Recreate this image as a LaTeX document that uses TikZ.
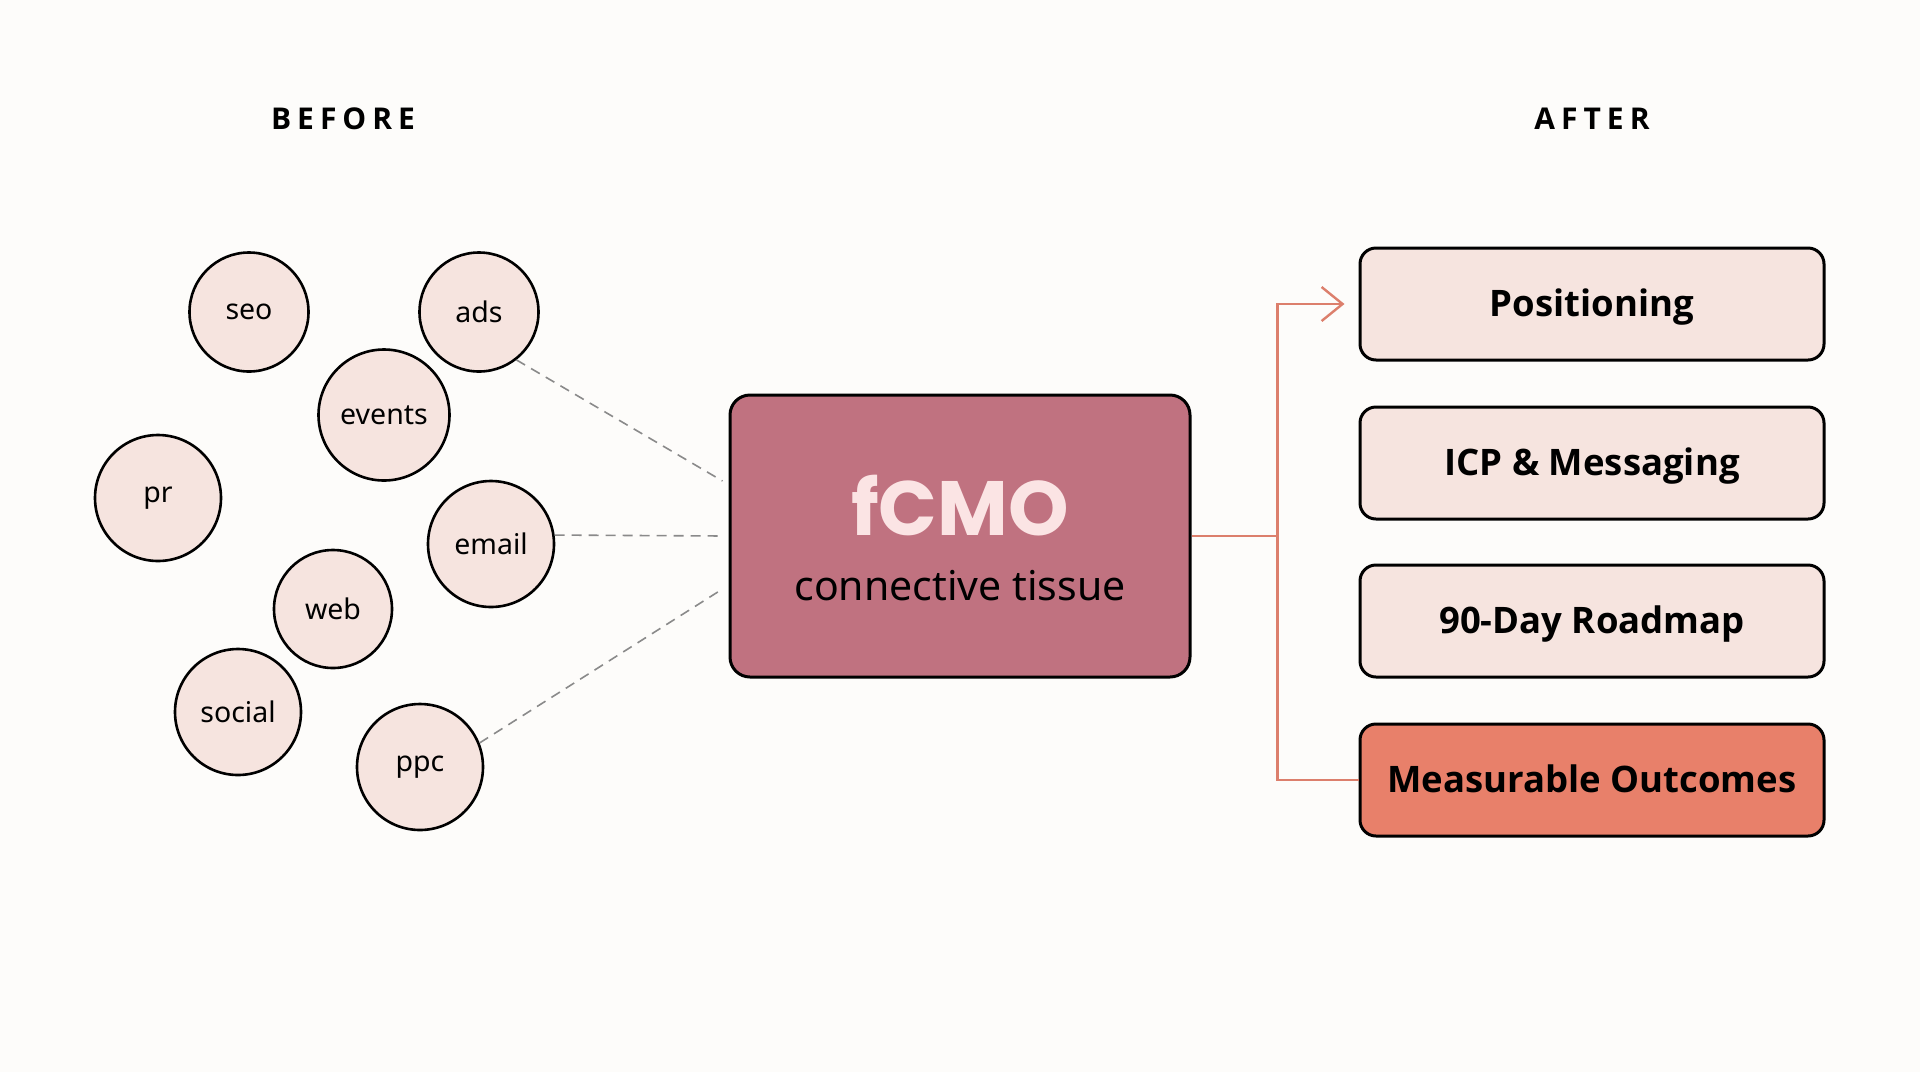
\documentclass[tikz,border=0pt]{standalone}
\usepackage{fontspec}
\setmainfont{Noto Sans}
\newfontfamily\popfont{Poppins}
\newfontfamily\boldsans{Open Sans}
\newfontfamily\headfont[LetterSpace=20]{Open Sans}
\usetikzlibrary{arrows.meta,calc}
\definecolor{bg}{HTML}{FDFCFA}
\definecolor{pinkfill}{HTML}{F6E4DF}
\definecolor{rose}{HTML}{C07280}
\definecolor{coral}{HTML}{E8806A}
\definecolor{linecoral}{HTML}{DC7F6C}
\definecolor{fcmotext}{HTML}{FBE4E4}
\definecolor{dashgray}{HTML}{8A8A8A}
\begin{document}
\begin{tikzpicture}[x=1pt,y=-1pt,
  chan/.style={circle, draw=black, line width=2.6pt, fill=pinkfill, minimum size=#1, inner sep=0pt, text=black, font=\fontsize{28.5}{33}\selectfont},
  outbox/.style={rectangle, rounded corners=16pt, draw=black, line width=3pt, fill=pinkfill, minimum width=464pt, minimum height=112pt, inner sep=0pt, text height=25pt, text depth=0pt, font=\boldsans\fontsize{36.5}{42}\selectfont\bfseries},
  dashlink/.style={draw=dashgray, line width=1.6pt, dash pattern=on 10pt off 7pt},
  corallink/.style={draw=linecoral, line width=2.4pt},
  title/.style={font=\headfont\fontsize{30}{36}\selectfont\bfseries, text=black}
]
\fill[bg] (0,0) rectangle (1920,1072);
\useasboundingbox (0,0) rectangle (1920,1072);

% titles
\node[title] (before) at (343,119) {BEFORE};
\node[title] (after) at (1592,119) {AFTER};

% scattered channels
\node[chan=119pt] (seo) at (249,312) {seo};
\node[chan=119pt] (ads) at (479,312) {ads};
\node[chan=131pt] (events) at (384,415) {events};
\node[chan=126pt] (pr) at (158,498) {pr};
\node[chan=126pt] (email) at (491,544) {email};
\node[chan=118pt] (web) at (333,609) {web};
\node[chan=126pt] (social) at (238,712) {social};
\node[chan=126pt] (ppc) at (420,767) {ppc};

% central box
\node[rectangle, rounded corners=20pt, draw=black, line width=3pt, fill=rose, minimum width=460pt, minimum height=282pt] (fcmo) at (960,536) {};
\node[anchor=base, text=fcmotext, font=\popfont\fontsize{77}{80}\selectfont\bfseries] (fcmolabel) at (960,535) {fCMO};
\node[anchor=base, text=black, font=\fontsize{41}{46}\selectfont] (tissue) at (960,600) {connective tissue};

% outcome boxes
\node[outbox] (pos) at (1592,304) {Positioning};
\node[outbox] (icp) at (1592,463) {ICP \& Messaging};
\node[outbox] (road) at (1592,621) {90-Day Roadmap};
\node[outbox, fill=coral] (meas) at (1592,780) {Measurable Outcomes};

% dashed links
\draw[dashlink] (ads.-52) -- ($(fcmo.west)+(-6,-55)$);
\draw[dashlink] (email.8) -- ($(fcmo.west)+(-4,0)$);
\draw[dashlink] (ppc.22) -- ($(fcmo.west)+(-6,53)$);

% coral connector
\coordinate (junc) at ($(fcmo.east)+(86,0)$);
\draw[corallink] (fcmo.east) -- (junc);
\draw[corallink, -{Straight Barb[length=21pt, width=34pt, line width=2.4pt]}, shorten >=14pt] (junc) |- (pos.west);
\draw[corallink] (junc) |- (meas.west);
\end{tikzpicture}
\end{document}
